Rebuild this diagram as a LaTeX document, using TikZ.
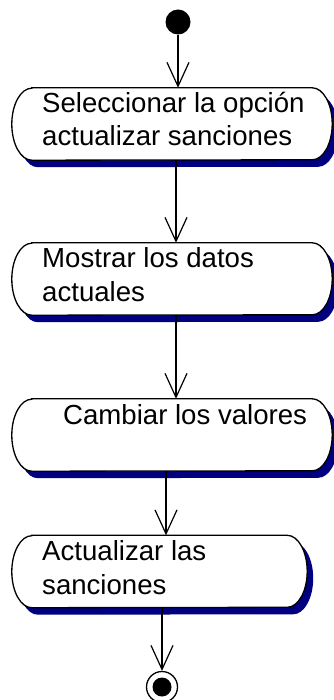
\documentclass[tikz,border=0pt]{standalone}
\usepackage{fontspec}
\setmainfont{Liberation Sans}
\usetikzlibrary{arrows.meta}
\definecolor{navy}{RGB}{0,0,128}
\newcommand{\actpath}[2]{%
 \path[#2] ([xshift=20pt]#1.north west) -- ([xshift=-20pt]#1.north east)
   arc[start angle=90,end angle=-90,x radius=20pt,y radius=36pt]
   -- ([xshift=20pt]#1.south west)
   arc[start angle=270,end angle=90,x radius=20pt,y radius=36pt] -- cycle;}
\tikzset{
  act/.style={rectangle, minimum width=320pt, minimum height=72pt, inner sep=0pt},
  txt/.style={anchor=base west, align=left, inner sep=0pt, font=\fontsize{27.6}{33.5}\selectfont},
  arr/.style={-{Straight Barb[length=24pt,width=22pt]}, line width=1.2pt},
  startnode/.style={circle, fill=black, minimum size=25pt, inner sep=0pt},
  endnode/.style={circle, draw, fill=white, line width=1.3pt, minimum size=31pt, inner sep=0pt,
     path picture={\fill[black] (path picture bounding box.center) circle (9.5pt);}},
  shadowsty/.style={fill=navy, transform canvas={shift={(6pt,-7pt)}}},
  outlinesty/.style={draw=black, fill=white, line width=1.3pt}
}
\begin{document}
\begin{tikzpicture}[x=1pt,y=1pt]
\useasboundingbox (0,0) rectangle (333,-700);
\node[act] (a1) at (172,-124) {};
\node[act] (a2) at (172,-279) {};
\node[act] (a3) at (172,-435) {};
\node[act, minimum width=295pt] (a4) at (159.5,-571.5) {};
\foreach \n in {a1,a2,a3,a4}{
  \actpath{\n}{shadowsty}
  \actpath{\n}{outlinesty}
}
\node[txt] (t1) at (42,-146) {Seleccionar la opción\\actualizar sanciones};
\node[txt] (t2) at (42,-301) {Mostrar los datos\\actuales};
\node[txt] (t3) at (63,-424) {Cambiar los valores};
\node[txt] (t4) at (42,-594) {Actualizar las\\sanciones};
\node[startnode] (s) at (178,-22) {};
\node[endnode] (e) at (162,-687) {};
\draw[arr] (s) -- ([xshift=6pt]a1.north);
\draw[arr] ([xshift=4pt]a1.south) -- ([xshift=4pt]a2.north);
\draw[arr] ([xshift=4pt]a2.south) -- ([xshift=4pt]a3.north);
\draw[arr] ([xshift=-6pt]a3.south) -- ([xshift=6.5pt]a4.north);
\draw[arr] ([xshift=2.5pt]a4.south) -- (e.north);
\end{tikzpicture}
\end{document}
